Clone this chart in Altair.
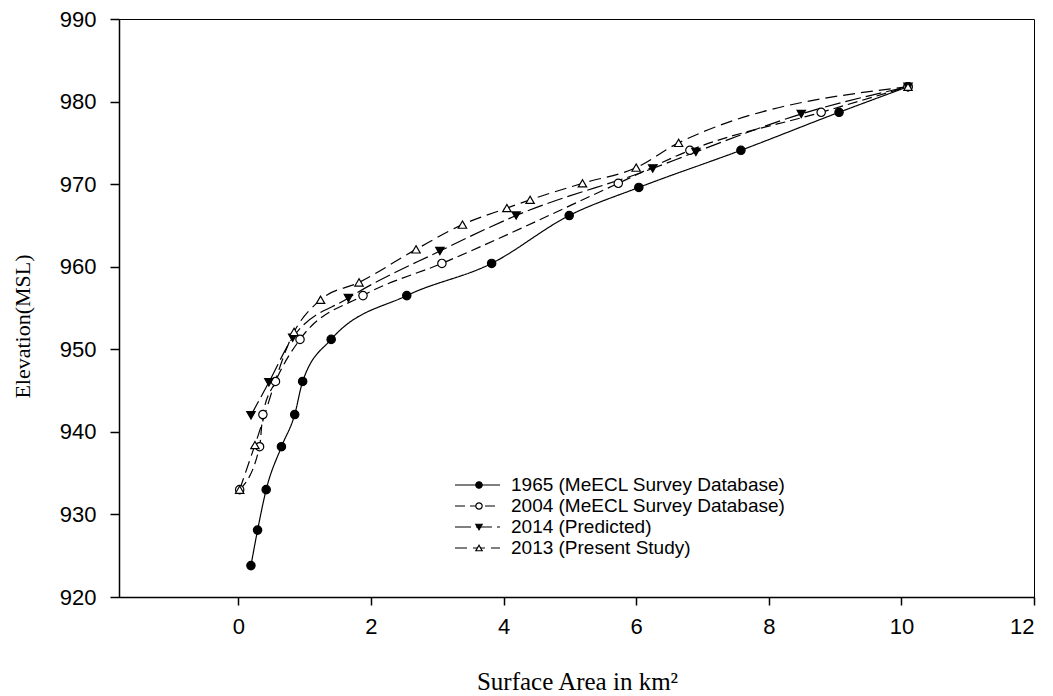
import altair as alt
import pandas as pd

series_names = [
    "1965 (MeECL Survey Database)",
    "2004 (MeECL Survey Database)",
    "2014 (Predicted)",
    "2013 (Present Study)",
]

s1965_x = [0.19, 0.29, 0.42, 0.65, 0.85, 0.97, 1.40, 2.54, 3.82, 4.99, 6.04, 7.58, 9.06, 10.10]
s1965_y = [923.8, 928.1, 933.0, 938.2, 942.1, 946.1, 951.2, 956.5, 960.4, 966.2, 969.6, 974.1, 978.7, 981.8]

s2004_x = [0.02, 0.32, 0.37, 0.56, 0.93, 1.88, 3.07, 5.73, 6.81, 8.79, 10.10]
s2004_y = [933.0, 938.2, 942.1, 946.1, 951.2, 956.5, 960.4, 970.1, 974.1, 978.7, 981.8]

s2014_x = [0.19, 0.46, 0.82, 1.66, 3.04, 4.19, 6.25, 6.90, 8.49, 10.10]
s2014_y = [942.0, 946.0, 951.4, 956.2, 961.9, 966.2, 971.9, 973.9, 978.5, 981.8]

s2013_x = [0.02, 0.25, 0.84, 1.24, 1.82, 2.68, 3.38, 4.05, 4.40, 5.19, 6.00, 6.64, 10.10]
s2013_y = [933.0, 938.4, 952.1, 956.0, 958.1, 962.1, 965.1, 967.1, 968.1, 970.1, 972.0, 975.0, 981.8]

x_ticks = [0, 2, 4, 6, 8, 10, 12]
y_ticks = [920, 930, 940, 950, 960, 970, 980, 990]

shape_range = ["circle", "circle", "triangle-down", "triangle-up"]
fill_range = ["black", "white", "black", "white"]
dash_range = [[1, 0], [10, 5], [16, 5], [12, 6]]

rows = []
for name, xs, ys in zip(series_names,
                        [s1965_x, s2004_x, s2014_x, s2013_x],
                        [s1965_y, s2004_y, s2014_y, s2013_y]):
    for i, (xv, yv) in enumerate(zip(xs, ys)):
        rows.append({"series": name, "idx": i, "area": xv, "elev": yv})
df = pd.DataFrame(rows)

W, H = 915, 578

x_enc = alt.X(
    "area:Q",
    scale=alt.Scale(domain=[-1.8, 12], nice=False, zero=False),
    axis=alt.Axis(values=x_ticks, format="d", title="Surface Area in km²", tickSize=8,
                  labelPadding=11, titleX=458, titleY=84, titleFontSize=25,
                  titleBaseline="middle", titleAlign="center"),
)
y_enc = alt.Y(
    "elev:Q",
    scale=alt.Scale(domain=[920, 990], nice=False, zero=False),
    axis=alt.Axis(values=y_ticks, format="d", title="Elevation(MSL)", tickSize=9,
                  labelPadding=14, titleX=-97, titleY=307, titleAngle=270, titleFontSize=22,
                  titleBaseline="middle", titleAlign="center"),
)

lines = alt.Chart(df).mark_line(color="black", strokeWidth=1.2, interpolate="monotone").encode(
    x=x_enc,
    y=y_enc,
    detail="series:N",
    order="idx:Q",
    strokeDash=alt.StrokeDash("series:N", scale=alt.Scale(domain=series_names, range=dash_range), legend=None),
)

points = alt.Chart(df).mark_point(filled=True, stroke="black", strokeWidth=1.2, opacity=1, size=70).encode(
    x="area:Q",
    y="elev:Q",
    shape=alt.Shape("series:N", scale=alt.Scale(domain=series_names, range=shape_range), legend=None),
    fill=alt.Fill("series:N", scale=alt.Scale(domain=series_names, range=fill_range), legend=None),
)

legend_layers = []
leg_y = [466, 487, 508, 529]
for i, name in enumerate(series_names):
    ldf = pd.DataFrame({"series": [name]})
    legend_layers.append(
        alt.Chart(ldf).mark_rule(color="black", strokeWidth=1.2, strokeDash=dash_range[i]).encode(
            x=alt.value(336), x2=alt.value(381), y=alt.value(leg_y[i]))
    )
    legend_layers.append(
        alt.Chart(ldf).mark_point(filled=True, fill=fill_range[i], stroke="black", strokeWidth=1.2,
                                  opacity=1, size=40, shape=shape_range[i]).encode(
            x=alt.value(360), y=alt.value(leg_y[i]))
    )
    legend_layers.append(
        alt.Chart(ldf).mark_text(align="left", baseline="middle", font="Liberation Sans",
                                 fontSize=19, color="black").encode(
            x=alt.value(392), y=alt.value(leg_y[i]), text="series:N")
    )

chart = alt.layer(lines, points, *legend_layers).properties(
    width=W, height=H,
    autosize=alt.AutoSizeParams(type="none"),
    padding={"left": 111, "top": 11, "right": 11, "bottom": 96},
    background="white",
).configure_view(
    stroke="black", strokeWidth=1,
).configure_axis(
    domainColor="black", domainWidth=1.5, tickColor="black", tickWidth=1.5,
    labelFont="Liberation Sans", labelFontSize=22, labelColor="black",
    titleFont="Liberation Serif", titleFontWeight="normal", titleColor="black",
    grid=False,
)

chart.save("out.html", embed_options={"renderer": "svg", "actions": False})
